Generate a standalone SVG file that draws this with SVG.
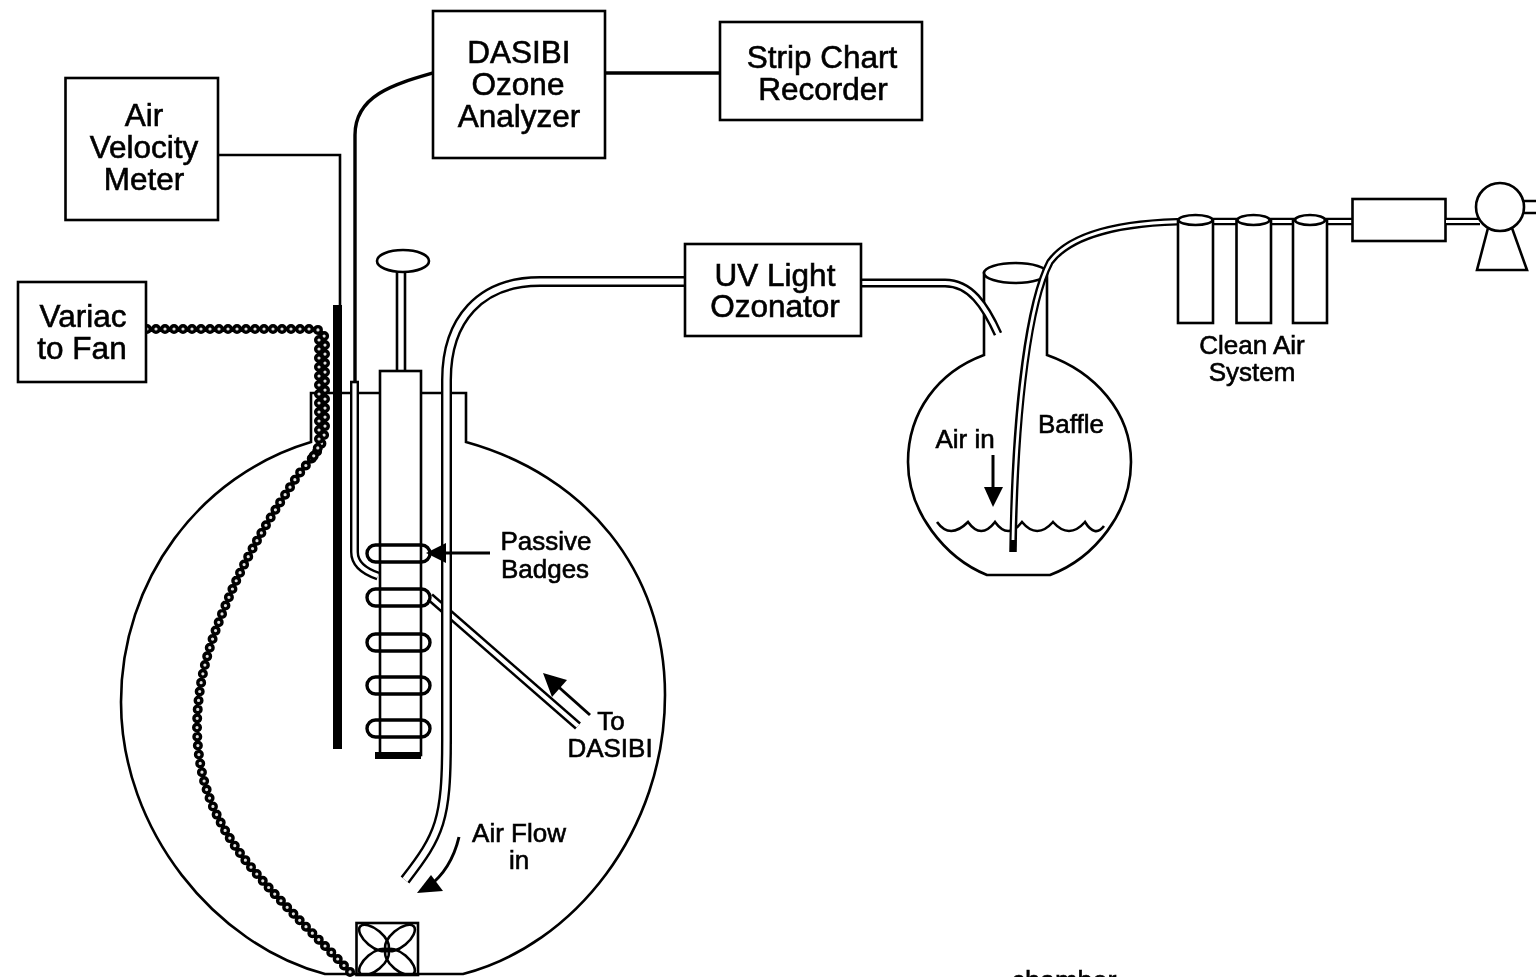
<svg xmlns="http://www.w3.org/2000/svg" width="1536" height="977" viewBox="0 0 1536 977">
<defs>
<filter id="soft" filterUnits="userSpaceOnUse" x="0" y="0" width="1536" height="977"><feGaussianBlur stdDeviation="0.6"/></filter>
<clipPath id="fanclip"><rect x="356" y="923" width="62" height="52"/></clipPath>
</defs>
<style>
.l{fill:none;stroke:#000;stroke-width:2.6}
.th{stroke-width:3.4}
.b{fill:#fff;stroke:#000;stroke-width:2.6}
.t{font-family:"Liberation Sans",Arial,sans-serif;fill:#000;stroke:#000;stroke-width:0.6;text-anchor:middle}
.big{font-size:31.5px}
.sm{font-size:26px}
.to{fill:none;stroke:#000;stroke-width:11}
.ti{fill:none;stroke:#fff;stroke-width:6.2}
.tn{stroke-width:9}
.tw{stroke-width:4.2}
.no{fill:none;stroke:#000;stroke-width:7.5}
.ni{fill:none;stroke:#fff;stroke-width:2.8}
.be{fill:none;stroke:#000;stroke-width:10;stroke-linecap:round;stroke-dasharray:0 9}
.bi{fill:none;stroke:#ddd;stroke-width:3.2;stroke-linecap:round;stroke-dasharray:0 9}
.ar{fill:none;stroke:#000;stroke-width:3}
.hd{fill:#000;stroke:none}
</style>
<rect width="1536" height="977" fill="#fff"/>
<g filter="url(#soft)">
<g id="chamber">
<path class="b" d="M311 393V442C200 475 121 580 121 702C121 830 215 945 325 974H463C575 945 665 830 665 695C665 570 585 475 466 442V393Z"/>
</g>
<g id="connectors">
<path class="l" d="M218 155H340V305"/>
<path class="l th" d="M605 73H720"/>
<path class="l th" d="M433 73C395 84 355 95 355 135V382"/>
<path class="be" d="M147 329H312Q325 329 325 342V425C325 450 310 458 296 478C275 510 252 545 232 590C215 630 198 670 197 725C197 790 222 835 262 880C290 912 325 945 352 974"/>
<path class="bi" d="M147 329H312Q325 329 325 342V425C325 450 310 458 296 478C275 510 252 545 232 590C215 630 198 670 197 725C197 790 222 835 262 880C290 912 325 945 352 974"/>
<path class="be" d="M319 340V440Q319 450 312 458"/>
<path class="bi" d="M319 340V440Q319 450 312 458"/>
<path class="to tn" d="M354.500 382V552Q354.500 568 378 576"/>
<path class="ti tw" d="M354.500 382V552Q354.500 568 378 576"/>
<path class="l" d="M350 382H359"/>
<path class="to tn" d="M430 597L578 726"/>
<path class="ti tw" d="M430 597L578 726"/>
</g>
<g id="rod"><rect x="333" y="305" width="9" height="444" fill="#000"/></g>
<g id="sampler">
<ellipse class="b" cx="403" cy="261" rx="26" ry="11"/>
<path class="l" d="M397 271V370M405 271V370"/>
<rect class="b" x="380" y="371" width="41" height="384"/>
<rect x="375" y="752" width="46" height="7" fill="#000"/>
</g>
<g id="badges">
<rect class="l th" x="367" y="545" width="63" height="17" rx="8.500"/>
<rect class="l th" x="367" y="589" width="63" height="17" rx="8.500"/>
<rect class="l th" x="367" y="634" width="63" height="17" rx="8.500"/>
<rect class="l th" x="367" y="677" width="63" height="17" rx="8.500"/>
<rect class="l th" x="367" y="720" width="63" height="17" rx="8.500"/>
</g>
<g id="connectors-inlet">
<path class="to" d="M685 281.500H540C480 281.500 446.500 320 446.500 380V740C446.500 820 440 835 405 880"/>
<path class="ti" d="M686 281.500H540C480 281.500 446.500 320 446.500 380V740C446.500 820 440 835 405 880"/>
<path class="ar" d="M490 553H440"/><path class="hd" d="M426 553L446 543V563Z"/>
<path class="ar" d="M590 715L553 682"/><path class="hd" d="M543 673L567 680L552 697Z"/>
<path class="ar" d="M459 837C454 858 444 875 428 887"/><path class="hd" d="M417 893L431 875L443 891Z"/>
</g>
<g id="fan">
<rect class="l" x="356.500" y="923" width="61.500" height="52"/>
<g class="l" clip-path="url(#fanclip)"><ellipse cx="374" cy="938" rx="18" ry="8.500" transform="rotate(40 374 938)"/><ellipse cx="400" cy="938" rx="18" ry="8.500" transform="rotate(-40 400 938)"/><ellipse cx="374" cy="962" rx="18" ry="8.500" transform="rotate(-40 374 962)"/><ellipse cx="400" cy="962" rx="18" ry="8.500" transform="rotate(40 400 962)"/></g>
</g>
<g id="velocity-meter"><rect class="b" x="65.500" y="78" width="152.500" height="142"/><text class="t big" x="144" y="126">Air</text><text class="t big" x="144" y="158">Velocity</text><text class="t big" x="144" y="190">Meter</text></g>
<g id="analyzer"><rect class="b" x="433" y="11" width="172" height="147"/><text class="t big" x="519" y="63">DASIBI</text><text class="t big" x="518" y="95">Ozone</text><text class="t big" x="519" y="127">Analyzer</text></g>
<g id="recorder"><rect class="b" x="720" y="22" width="202" height="98"/><text class="t big" x="822" y="68">Strip Chart</text><text class="t big" x="823" y="100">Recorder</text></g>
<g id="variac"><rect class="b" x="18" y="282" width="128" height="100"/><text class="t big" x="83" y="327">Variac</text><text class="t big" x="82" y="359">to Fan</text></g>
<g id="flask">
<path class="b" d="M984 273V355C938 372 908 412 908 462C908 512 945 558 987 575H1050C1095 558 1131 512 1131 462C1131 412 1095 372 1047 355V273Z"/>
<ellipse class="b" cx="1015.500" cy="273" rx="31.500" ry="10"/>
<path class="l" d="M937 522Q950 540 968 522Q981 540 995 522Q1008 540 1022 522Q1037 540 1053 522Q1069 540 1085 522Q1095 538 1104 526"/>
<path class="ar" d="M993 455V490"/><path class="hd" d="M993 507L984 487H1003Z"/>
</g>
<g id="uv-tube">
<path class="to tn" d="M860 283H945C970 283 985 305 998 334"/>
<path class="ti tw" d="M860 283H945C970 283 985 305 999 336"/>
</g>
<g id="uv"><rect class="b" x="685" y="244" width="176" height="92"/><text class="t big" x="775" y="286">UV Light</text><text class="t big" x="775" y="317">Ozonator</text></g>
<g id="baffle">
<path class="no" d="M1352 221.500H1190C1120 222 1070 235 1050 262C1030 300 1015 400 1013 552"/>
<path class="ni" d="M1352 221.500H1190C1120 222 1070 235 1050 262C1030 300 1016 400 1013 540"/>
<path stroke="#000" stroke-width="5" d="M1013 542V552"/>
</g>
<g id="clean-air">
<rect class="b" x="1178" y="220" width="35" height="103"/><ellipse class="b" cx="1195.500" cy="220" rx="17" ry="5"/>
<rect class="b" x="1236.500" y="220" width="34.500" height="103"/><ellipse class="b" cx="1253.500" cy="220" rx="16" ry="5"/>
<rect class="b" x="1293" y="220" width="34" height="103"/><ellipse class="b" cx="1310" cy="220" rx="15" ry="5"/>
</g>
<g id="filter-box"><rect class="b" x="1352.500" y="199" width="93" height="42"/></g>
<g id="pump">
<path class="no" d="M1446 221.500H1480"/><path class="ni" d="M1446 221.500H1481"/>
<path class="l" d="M1524 201H1536M1524 213H1536"/>
<path class="b" d="M1488 228L1477 270H1527L1512 228Z"/>
<circle class="b" cx="1500" cy="207" r="24"/>
</g>
<g id="labels">
<text class="t sm" x="546" y="550">Passive</text><text class="t sm" x="545" y="578">Badges</text>
<text class="t sm" x="611" y="730">To</text><text class="t sm" x="610" y="757">DASIBI</text>
<text class="t sm" x="519" y="842">Air Flow</text><text class="t sm" x="519" y="869">in</text>
<text class="t sm" x="965" y="448">Air in</text><text class="t sm" x="1071" y="433">Baffle</text>
<text class="t sm" x="1252" y="354">Clean Air</text><text class="t sm" x="1252" y="381">System</text>
<text class="t" style="font-size:27px" x="1064" y="990">chamber</text>
</g>
</g>
</svg>
